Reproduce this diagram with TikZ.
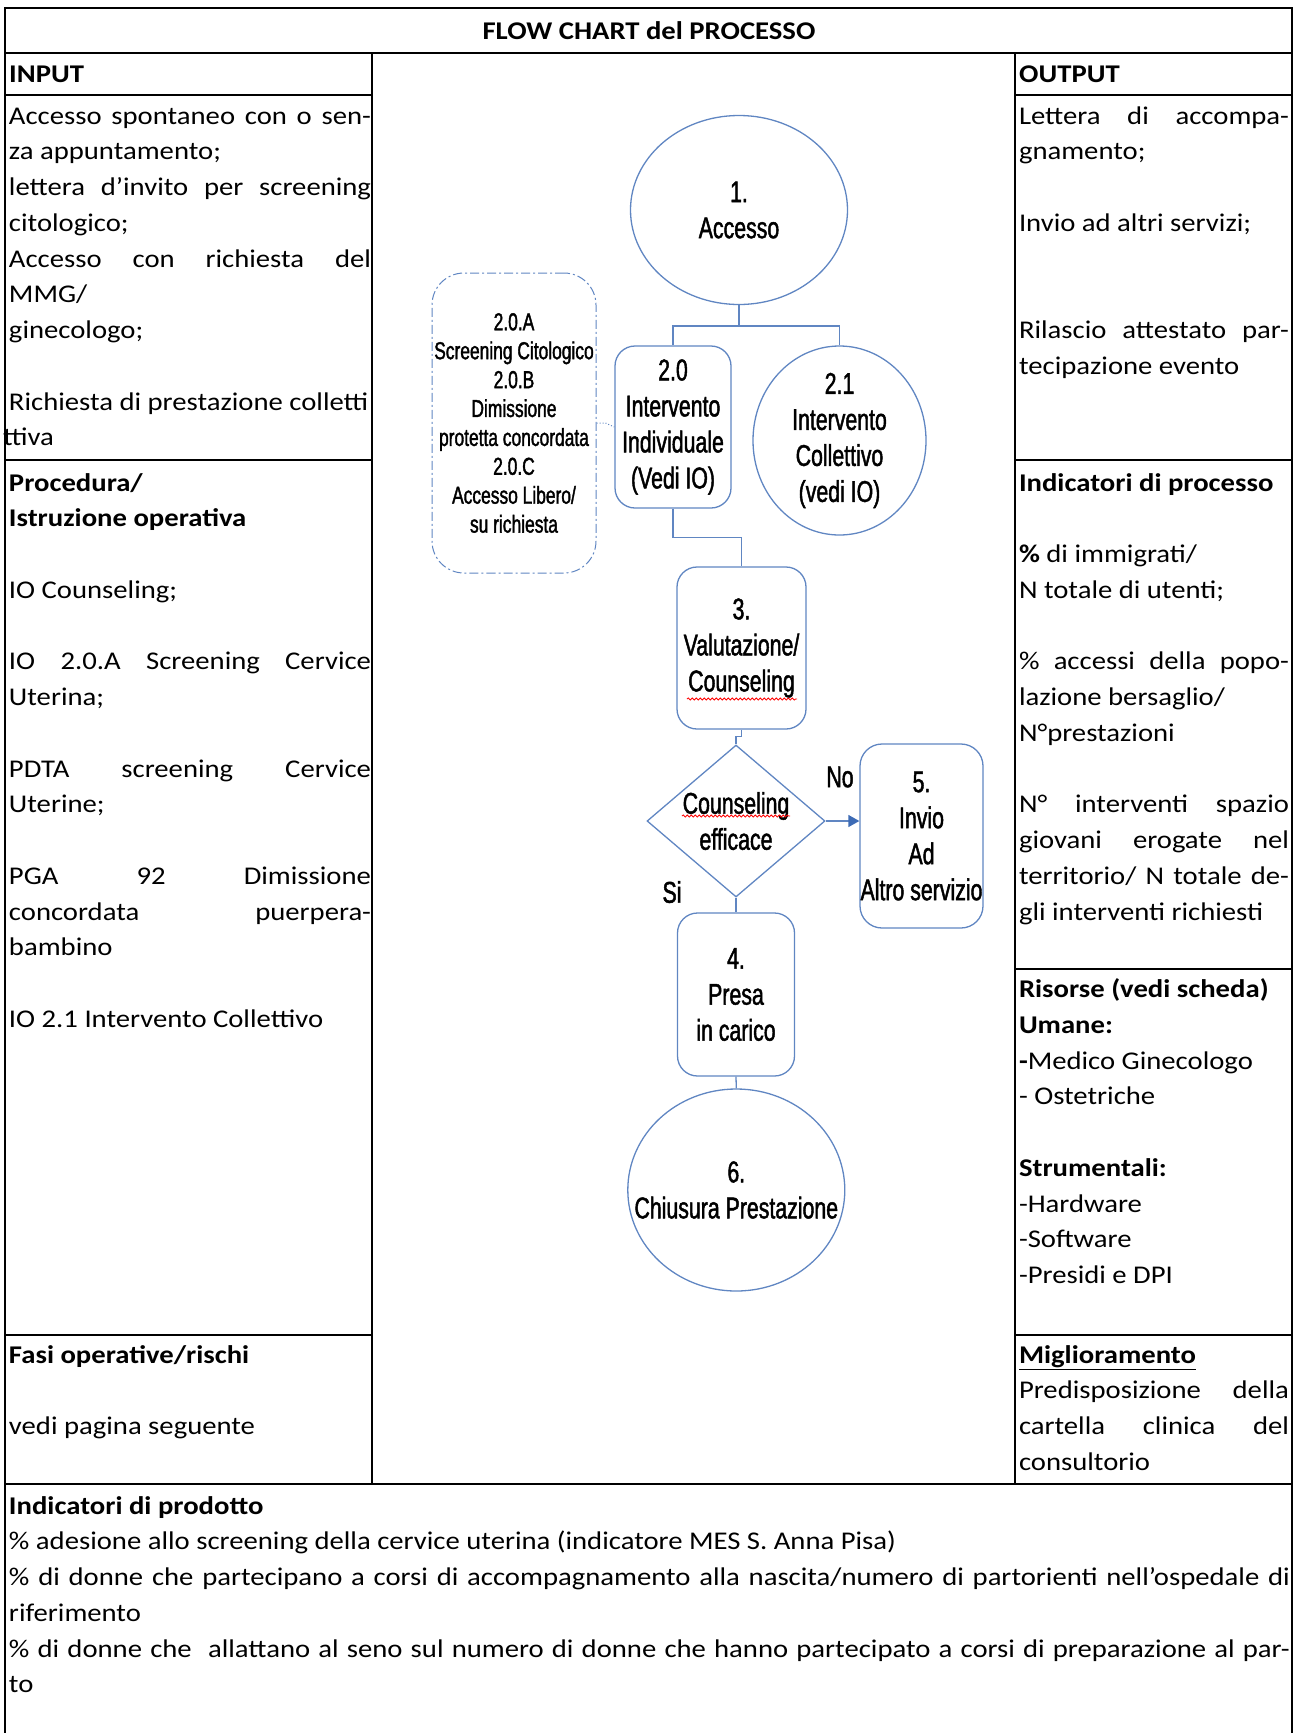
\documentclass[tikz,border=0pt]{standalone}
\usepackage{fontspec}
\setmainfont{Carlito}[FakeStretch=1.125]
\newfontfamily\fcf{Liberation Sans}[FakeStretch=0.71,FakeBold=1.5]
\usetikzlibrary{shapes.geometric,arrows.meta,decorations.pathmorphing}
\setlength{\parindent}{0pt}
\setlength{\parskip}{0pt}
\tolerance=10000 \hbadness=10000 \hfuzz=60pt \vbadness=10000

\definecolor{fcline}{RGB}{96,134,194}
\definecolor{fcarrow}{RGB}{61,107,181}

\newcommand\cellfont{\fontsize{25.5}{35.75}\selectfont}
\newcommand\fcA{\fcf\fontsize{30}{36}\selectfont}
\newcommand\fcB{\fcf\fontsize{24.5}{28.9}\selectfont}
\newcommand\Lw{362pt}
\newcommand\Rw{270pt}
\newcommand\Bw{1281pt}
\newcommand\PL[1]{\strut#1\par}
\newcommand\JL[2]{\makebox[#1][s]{\spaceskip=0pt\xspaceskip=0pt\strut#2}\par}

\begin{document}
\begin{tikzpicture}[x=1pt,y=-1pt,
  tline/.style={line width=2pt, black},
  cellL/.style={anchor=north west, inner sep=0pt, outer sep=0pt, text width=\Lw, align=justify, font=\cellfont},
  cellR/.style={anchor=north west, inner sep=0pt, outer sep=0pt, text width=\Rw, align=justify, font=\cellfont},
  cellB/.style={anchor=north west, inner sep=0pt, outer sep=0pt, text width=\Bw, align=justify, font=\cellfont},
  head/.style={anchor=west, inner sep=0pt, font=\cellfont\bfseries},
  fshape/.style={draw=fcline, line width=1.3pt, inner sep=0pt},
  rbox/.style={fshape, rectangle, rounded corners=20pt, align=center, font=\fcA},
  ell/.style={fshape, ellipse},
  ftext/.style={align=center, font=\fcA, inner sep=0pt},
  conn/.style={draw=fcline, line width=1.3pt},
  squig/.style={red, line width=0.8pt, decorate, decoration={snake, amplitude=1.1pt, segment length=4pt}}
]
\useasboundingbox (0,0) rectangle (1299,1733);

% ---------- table ----------
\draw[tline] (5,1733) -- (5,8) -- (1292,8) -- (1292,1733);
\draw[tline] (5,53) -- (1292,53);
\draw[tline] (372,53) -- (372,1484);
\draw[tline] (1015,53) -- (1015,1484);
\draw[tline] (5,95) -- (372,95);
\draw[tline] (5,460) -- (372,460);
\draw[tline] (5,1335) -- (372,1335);
\draw[tline] (1015,95) -- (1292,95);
\draw[tline] (1015,460) -- (1292,460);
\draw[tline] (1015,969) -- (1292,969);
\draw[tline] (1015,1335) -- (1292,1335);
\draw[tline] (5,1484) -- (1292,1484);

\node[font=\cellfont\bfseries, inner sep=0pt] (title) at (649,31) {FLOW CHART del PROCESSO};
\node[head] (inh) at (9,74) {INPUT};
\node[head] (outh) at (1019,74) {OUTPUT};

\node[cellL] (in1) at (9,99.2) {%
\JL{\Lw}{Accesso spontaneo con o sen-}%
\PL{za appuntamento;}%
\JL{\Lw}{lettera d’invito per screening}%
\PL{citologico;}%
\JL{\Lw}{Accesso con richiesta del}%
\PL{MMG/}%
\PL{ginecologo;}%
\PL{}%
\PL{\mbox{Richiesta di prestazione colletti}}%
\PL{\hspace*{-6pt}ttiva}};

\node[cellL] (proc) at (9,466) {%
\PL{\textbf{Procedura/}}%
\PL{\textbf{Istruzione operativa}}%
\PL{}%
\PL{IO Counseling;}%
\PL{}%
\JL{\Lw}{IO 2.0.A Screening Cervice}%
\PL{Uterina;}%
\PL{}%
\JL{\Lw}{PDTA screening Cervice}%
\PL{Uterine;}%
\PL{}%
\JL{\Lw}{PGA 92 Dimissione}%
\JL{\Lw}{concordata puerpera-}%
\PL{bambino}%
\PL{}%
\PL{IO 2.1 Intervento Collettivo}};

\node[cellL] (fasi) at (9,1338) {%
\PL{\textbf{Fasi operative/rischi}}%
\PL{}%
\PL{vedi pagina seguente}};

\node[cellR] (out1) at (1019,99.2) {%
\JL{\Rw}{Lettera di accompa-}%
\PL{gnamento;}%
\PL{}%
\PL{Invio ad altri servizi;}%
\PL{}%
\PL{}%
\JL{\Rw}{Rilascio attestato par-}%
\PL{tecipazione evento}};

\node[cellR] (indp) at (1019,466) {%
\PL{\textbf{Indicatori di processo}}%
\PL{}%
\PL{\textbf{\%} di immigrati/}%
\PL{N totale di utenti;}%
\PL{}%
\JL{\Rw}{\% accessi della popo-}%
\PL{lazione bersaglio/}%
\PL{N°prestazioni}%
\PL{}%
\JL{\Rw}{N° interventi spazio}%
\JL{\Rw}{giovani erogate nel}%
\JL{\Rw}{territorio/ N totale de-}%
\PL{gli interventi richiesti}};

\node[cellR] (ris) at (1019,972.7) {%
\PL{\textbf{Risorse (vedi scheda)}}%
\PL{\textbf{Umane:}}%
\PL{\textbf{-}Medico Ginecologo}%
\PL{- Ostetriche}%
\PL{}%
\PL{\textbf{Strumentali:}}%
\PL{-Hardware}%
\PL{-Software}%
\PL{-Presidi e DPI}};

\node[cellR] (migl) at (1019,1338) {%
\PL{\textbf{\underline{Miglioramento}}}%
\JL{\Rw}{Predisposizione della}%
\JL{\Rw}{cartella clinica del}%
\PL{consultorio}};

\node[cellB] (prod) at (9,1489) {%
\PL{\textbf{Indicatori di prodotto}}%
\PL{\% adesione allo screening della cervice uterina (indicatore MES S. Anna Pisa)}%
\JL{\Bw}{\% di donne che partecipano a corsi di accompagnamento alla nascita/numero di partorienti nell’ospedale di}%
\PL{riferimento}%
\JL{\Bw}{\% di donne che\ \ allattano al seno sul numero di donne che hanno partecipato a corsi di preparazione al par-}%
\PL{to}};

% ---------- flowchart ----------
\node[ell, minimum width=217, minimum height=189] (e1) at (739,210) {};
\node[ftext] (e1t) at (e1.center) {1.\\Accesso};
\node[rbox, minimum width=116, minimum height=162] (b20) at (673,427) {2.0\\Intervento\\Individuale\\(Vedi IO)};
\node[ell, minimum width=173, minimum height=189] (e21) at (839.5,440.5) {};
\node[ftext] (e21t) at (e21.center) {2.1\\Intervento\\Collettivo\\(vedi IO)};
\node[fshape, rectangle, rounded corners=32pt, line width=1pt, dash pattern=on 9pt off 3pt on 2pt off 3pt, minimum width=164, minimum height=300, align=center, font=\fcB] (dbx) at (514,423) {2.0.A\\Screening Citologico\\2.0.B\\Dimissione\\protetta concordata\\2.0.C\\Accesso Libero/\\su richiesta};
\node[rbox, minimum width=129, minimum height=162] (b3) at (741.5,648) {3.\\Valutazione/\\Counseling};
\node[fshape, diamond, minimum width=178, minimum height=152] (dia) at (736,821) {};
\node[ftext] (diat) at (dia.center) {Counseling\\efficace};
\node[rbox, rounded corners=22pt, minimum width=123, minimum height=184] (b5) at (921.5,836) {5.\\Invio\\Ad\\Altro servizio};
\node[rbox, minimum width=117, minimum height=163] (b4) at (736,994.5) {4.\\Presa\\in carico};
\node[ell, minimum width=217, minimum height=202] (e6) at (736.3,1190) {};
\node[ftext] (e6t) at (e6.center) {6.\\Chiusura Prestazione};
\node[font=\fcA, inner sep=0pt] (no) at (840,777) {No};
\node[font=\fcA, inner sep=0pt] (si) at (672,892) {Si};

\coordinate (j1) at (739,326);
\draw[conn] (e1.south) -- (j1);
\draw[conn] (j1) -| (b20.north);
\draw[conn] (j1) -| (e21.north);
\draw[conn] (b20.south) -- ++(0,29) -| (b3.north);
\draw[conn] (b3.south) -- ++(0,7) -| (dia.north);
\draw[conn, -{Triangle[length=11pt,width=12pt,color=fcarrow]}] (dia.east) -- (dia.east -| b5.west);
\draw[conn] (dia.south) -- (b4.north);
\draw[conn] (b4.south) -- (e6.north);
\draw[fcline, line width=1pt, dotted] (dbx.east) -- ++(9,0) -- (b20.west);

\draw[squig] (687,699) -- (797,699);
\draw[squig] (682,816) -- (790,816);
\end{tikzpicture}
\end{document}
